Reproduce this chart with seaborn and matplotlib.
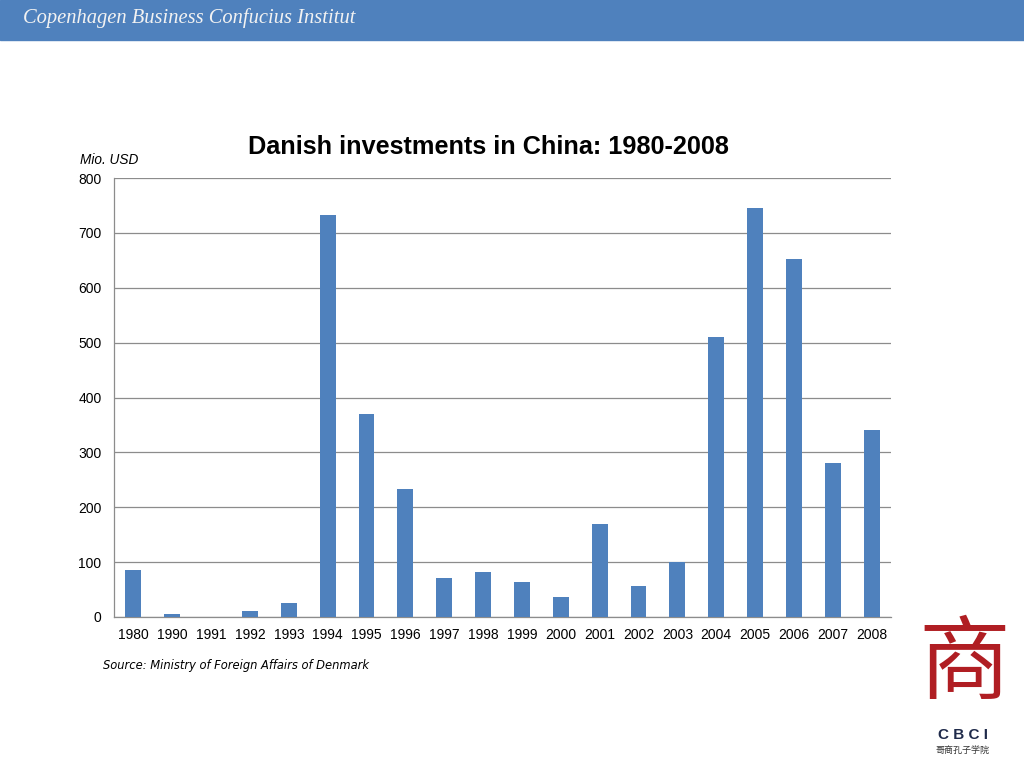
import matplotlib
matplotlib.use('Agg')
import matplotlib.pyplot as plt
import seaborn as sns
import pandas as pd
from matplotlib.patches import Rectangle

# data (Mio. USD)
years = ['1980', '1990', '1991', '1992', '1993', '1994', '1995', '1996', '1997', '1998',
         '1999', '2000', '2001', '2002', '2003', '2004', '2005', '2006', '2007', '2008']
investments = [86, 5, 0, 11, 25, 732, 370, 233, 71, 82,
               64, 36, 169, 56, 100, 510, 745, 652, 280, 341]
y_ticks = [0, 100, 200, 300, 400, 500, 600, 700, 800]

BAR_COLOR = '#4F81BD'
GRID_COLOR = '#8C8C8C'

sns.set_style('white')
plt.rcParams['font.family'] = ['Liberation Sans', 'DejaVu Sans']
plt.rcParams['text.color'] = 'black'
plt.rcParams['xtick.labelcolor'] = 'black'
plt.rcParams['ytick.labelcolor'] = 'black'

df = pd.DataFrame({'year': years, 'value': investments})

fig = plt.figure(figsize=(10.24, 7.68), dpi=100)

# header band
fig.patches.append(Rectangle((0, 1 - 40 / 768), 1, 40 / 768, transform=fig.transFigure,
                             color='#4F81BD', zorder=0))
fig.text(23 / 1024, 1 - 18 / 768, 'Copenhagen Business Confucius Institut',
         family='Liberation Serif', style='italic', fontsize=14.8, color='#F2F2F2',
         va='center', ha='left')

ax = fig.add_axes([114 / 1024, 151 / 768, 777 / 1024, 439 / 768])
sns.barplot(data=df, x='year', y='value', color=BAR_COLOR, width=0.41,
            saturation=1, linewidth=0, edgecolor='none', ax=ax, zorder=3)

ax.set_ylim(0, 800)
ax.set_xlim(-0.5, len(years) - 0.5)
ax.set_yticks(y_ticks)
ax.yaxis.grid(True, color=GRID_COLOR, linewidth=0.9, zorder=0)
ax.set_axisbelow(True)
ax.set_xlabel('')
ax.set_ylabel('')

# category tick marks between the bars
ax.set_xticks(range(len(years)))
ax.set_xticklabels(years, fontsize=10)
ax.tick_params(axis='x', length=0, pad=8)
ax.set_xticks([i - 0.5 for i in range(len(years) + 1)], minor=True)
ax.tick_params(axis='x', which='minor', length=5, color=GRID_COLOR, width=0.9)
ax.tick_params(axis='y', length=5, color=GRID_COLOR, width=0.9, labelsize=10, pad=4)

for side in ['top', 'right']:
    ax.spines[side].set_visible(False)
for side in ['left', 'bottom']:
    ax.spines[side].set_color(GRID_COLOR)
    ax.spines[side].set_linewidth(0.9)

fig.text(488 / 1024, 1 - 147 / 768, 'Danish investments in China: 1980-2008',
         fontsize=18.2, fontweight='bold', ha='center', va='center')
fig.text(80 / 1024, 1 - 160 / 768, 'Mio. USD', fontsize=9.8, style='italic',
         ha='left', va='center')
fig.text(103 / 1024, 1 - 665 / 768, 'Source: Ministry of Foreign Affairs of Denmark',
         family='DejaVu Sans', style='italic', fontsize=8.3, ha='left', va='center')

# CBCI logo
fig.text(964 / 1024, 1 - 666 / 768, '商', family='Noto Sans CJK SC', fontsize=66,
         fontweight='light', color='#B01E23', ha='center', va='center')
fig.text(963 / 1024, 1 - 735 / 768, 'C B C I', fontsize=11, fontweight='bold',
         color='#1F2A4A', ha='center', va='center')
fig.text(963 / 1024, 1 - 751 / 768, '哥商孔子学院', family='Noto Sans CJK SC',
         fontsize=6.5, color='#333333', ha='center', va='center')

fig.savefig('out.png', dpi=100)
